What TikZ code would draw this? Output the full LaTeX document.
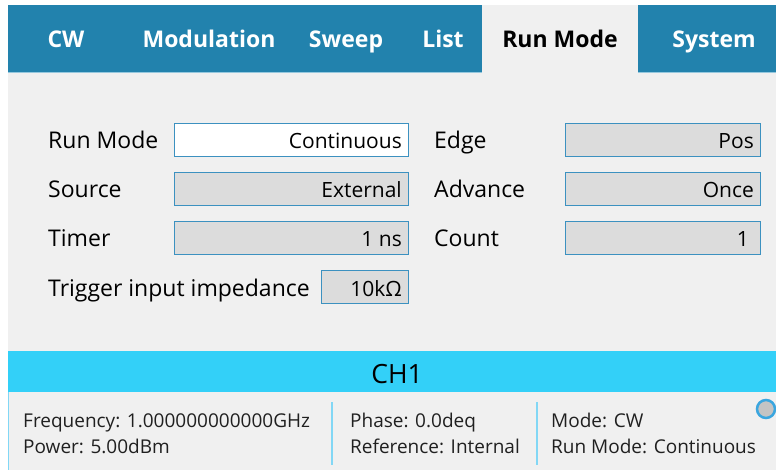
\documentclass[tikz,border=0pt]{standalone}
\usepackage{fontspec}
\setmainfont{Open Sans}
\usetikzlibrary{positioning}

\definecolor{tabblue}{RGB}{34,130,173}
\definecolor{tabline}{RGB}{150,200,222}
\definecolor{bodygray}{RGB}{240,240,240}
\definecolor{fieldgray}{RGB}{220,220,220}
\definecolor{fieldline}{RGB}{60,145,192}
\definecolor{chcyan}{RGB}{51,208,248}
\definecolor{sepcyan}{RGB}{130,215,245}
\definecolor{ringblue}{RGB}{58,166,223}
\definecolor{knobgray}{RGB}{196,196,196}
\definecolor{stattext}{RGB}{32,32,32}

\tikzset{
  tab/.style={anchor=base, text=white, font=\bfseries\fontsize{23}{26}\selectfont, inner sep=0pt},
  activetab/.style={tab, text=black},
  lbl/.style={anchor=base west, inner sep=0pt, text=black, font=\fontsize{23}{26}\selectfont},
  field/.style={draw=fieldline, fill=fieldgray, line width=1pt, anchor=north west,
    minimum height=33pt, inner sep=0pt},
  val/.style={anchor=base east, inner sep=0pt, text=black, font=\fontsize{21}{24}\selectfont},
  stat/.style={anchor=base west, inner sep=0pt, text=stattext, font=\fontsize{19}{22}\selectfont},
}

\begin{document}
\begin{tikzpicture}[x=1pt,y=-1pt]
	\useasboundingbox (0,0) rectangle (776,470);
	\fill[white] (0,0) rectangle (776,470);
	\fill[bodygray] (8,5) rectangle (776,470);
	
	% tab bar
	\fill[tabblue] (8,5) rectangle (776,72);
	\draw[tabline] (8,72.5) -- (482,72.5);
	\draw[tabline] (638,72.5) -- (776,72.5);
	\fill[bodygray] (482,5) rectangle (638,73);
	
	\node[tab] (cw) at (66,48) {CW};
	\node[tab] (mod) at (209,48) {Modulation};
	\node[tab] (sweep) at (346,48) {Sweep};
	\node[tab] (list) at (443,48) {List};
	\node[activetab] (run) at (560,48) {Run Mode};
	\node[tab] (sys) at (714,48) {System};
	
	% left column
	\node[lbl] (lrun) at (48,149) {Run Mode};
	\node[lbl] (lsrc) at (48,198) {Source};
	\node[lbl] (ltim) at (48,247) {Timer};
	\node[lbl] (limp) at (48,296) {Trigger input impedance};
	
	\node[field, fill=white, minimum width=234pt] (frun) at (174,123) {};
	\node[field, minimum width=234pt] (fsrc) at (174,172) {};
	\node[field, minimum width=234pt] (ftim) at (174,221) {};
	\node[field, minimum width=87pt] (fimp) at (321,270) {};
	
	\node[val] (vrun) at ([xshift=-7pt]frun.east |- lrun.base) {Continuous};
	\node[val] (vsrc) at ([xshift=-7pt]fsrc.east |- lsrc.base) {External};
	\node[val] (vtim) at ([xshift=-7pt]ftim.east |- ltim.base) {1 ns};
	\node[val] (vimp) at ([xshift=-7pt]fimp.east |- limp.base) {10kΩ};
	
	% right column
	\node[lbl] (ledge) at (434,149) {Edge};
	\node[lbl] (ladv) at (434,198) {Advance};
	\node[lbl] (lcnt) at (434,247) {Count};
	
	\node[field, minimum width=195pt] (fedge) at (565,123) {};
	\node[field, minimum width=195pt] (fadv) at (565,172) {};
	\node[field, minimum width=195pt] (fcnt) at (565,221) {};
	
	\node[val] (vedge) at ([xshift=-7pt]fedge.east |- ledge.base) {Pos};
	\node[val] (vadv) at ([xshift=-7pt]fadv.east |- ladv.base) {Once};
	\node[val] (vcnt) at ([xshift=-12pt]fcnt.east |- lcnt.base) {1};
	
	% channel bar
	\fill[chcyan] (8,351) rectangle (776,392);
	\node[anchor=base, inner sep=0pt, font=\fontsize{26.5}{30}\selectfont] (ch) at (397,383) {CH1};
	\draw[sepcyan] (8.5,392) -- (8.5,470);
	
	% status
	\node[stat] (freq) at (23,427) {Frequency: 1.000000000000GHz};
	\node[stat] (pow) at (23,453) {Power: 5.00dBm};
	\node[stat] (phase) at (350,427) {Phase: 0.0deq};
	\node[stat] (ref) at (350,453) {Reference: Internal};
	\node[stat] (mode) at (551,427) {Mode: CW};
	\node[stat] (rmode) at (551,453) {Run Mode: Continuous};
	
	\coordinate (s1t) at (332,402);
	\coordinate (s1b) at (332,465);
	\coordinate (s2t) at (537,402);
	\coordinate (s2b) at (537,465);
	\draw[sepcyan, line width=1.5pt] (s1t) -- (s1b);
	\draw[sepcyan, line width=1.5pt] (s2t) -- (s2b);
	
	\node[circle, draw=ringblue, fill=knobgray, line width=2.5pt, minimum size=18pt, inner sep=0pt] (knob) at (766,409) {};
\end{tikzpicture}
\end{document}
